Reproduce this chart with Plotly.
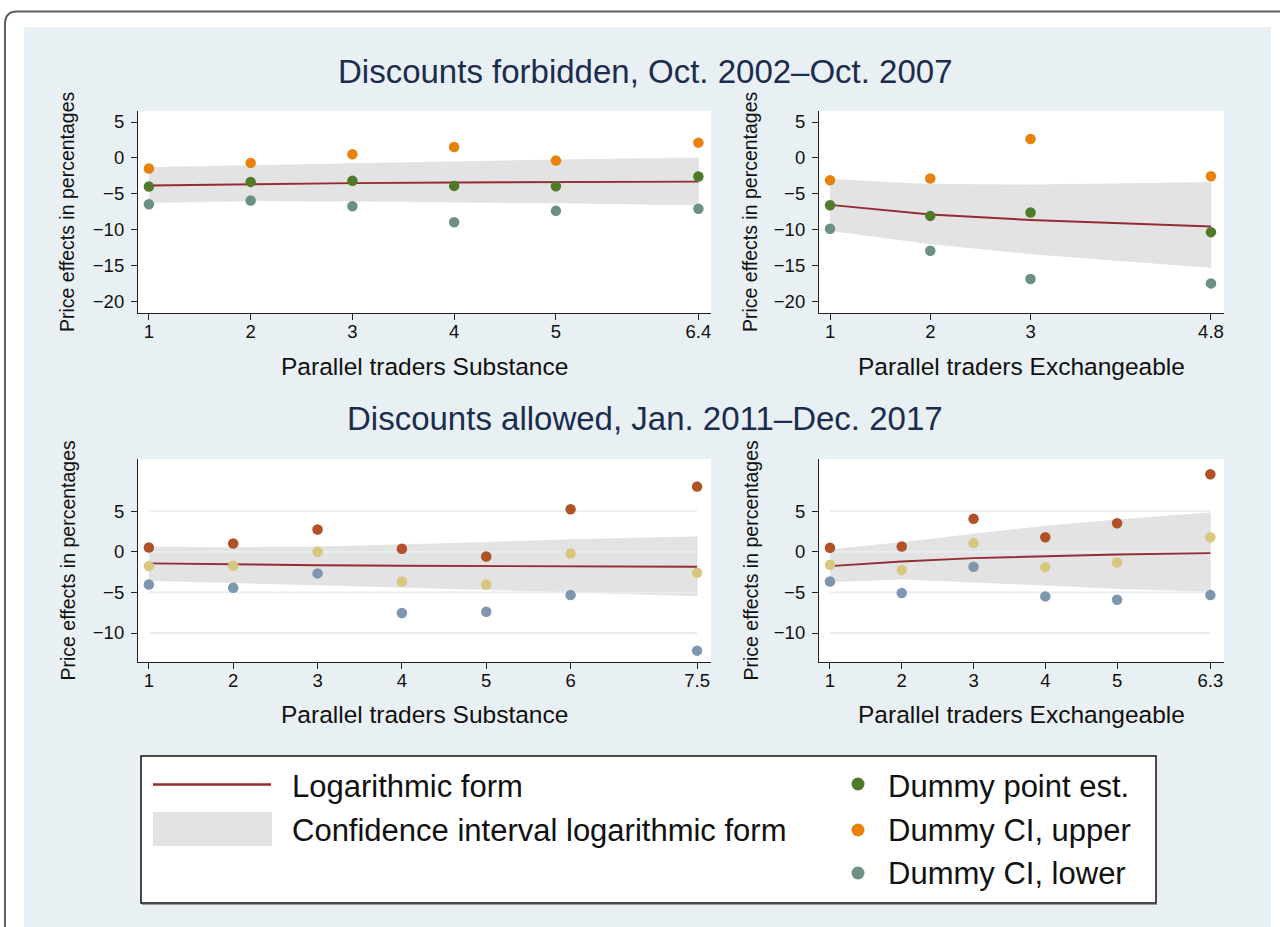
import plotly.graph_objects as go

W, H = 1280, 927
FONT = "Liberation Sans, Arial, Helvetica, sans-serif"

# ---------------- data ----------------
# Top row: Discounts forbidden, Oct. 2002-Oct. 2007
tl_x = [1, 2, 3, 4, 5, 6.4]
tl_point = [-3.98, -3.33, -3.19, -3.89, -3.94, -2.59]
tl_upper = [-1.48, -0.69, 0.51, 1.53, -0.37, 2.13]
tl_lower = [-6.44, -5.93, -6.71, -8.94, -7.36, -7.08]
tl_log = [-3.84, -3.63, -3.51, -3.42, -3.36, -3.29]
tl_ci_hi = [-1.34, -1.06, -0.74, -0.56, -0.28, 0.0]
tl_ci_lo = [-6.20, -5.97, -6.00, -6.10, -6.25, -6.53]

tr_x = [1, 2, 3, 4.8]
tr_point = [-6.57, -8.06, -7.59, -10.32]
tr_upper = [-3.10, -2.87, 2.64, -2.55]
tr_lower = [-9.86, -12.92, -16.85, -17.45]
tr_log = [-6.53, -7.86, -8.63, -9.54]
tr_ci_hi = [-2.96, -3.70, -3.75, -3.43]
tr_ci_lo = [-10.09, -11.94, -13.33, -15.23]

# Bottom row: Discounts allowed, Jan. 2011-Dec. 2017
bl_x = [1, 2, 3, 4, 5, 6, 7.5]
bl_point = [-1.76, -1.72, 0.0, -3.65, -4.02, -0.20, -2.58]
bl_upper = [0.53, 1.02, 2.75, 0.37, -0.57, 5.25, 8.03]
bl_lower = [-4.02, -4.43, -2.66, -7.54, -7.38, -5.33, -12.17]
bl_log = [-1.43, -1.57, -1.65, -1.71, -1.75, -1.79, -1.84]
bl_ci_hi = [0.57, 0.50, 0.60, 0.85, 1.15, 1.50, 1.84]
bl_ci_lo = [-3.52, -3.75, -4.05, -4.35, -4.65, -5.00, -5.41]

br_x = [1, 2, 3, 4, 5, 6.3]
br_point = [-1.60, -2.25, 1.07, -1.89, -1.31, 1.80]
br_upper = [0.49, 0.66, 4.06, 1.80, 3.52, 9.55]
br_lower = [-3.65, -5.08, -1.84, -5.49, -5.90, -5.33]
br_log = [-1.76, -1.19, -0.78, -0.53, -0.33, -0.16]
br_ci_hi = [0.25, 1.15, 2.17, 3.16, 3.93, 4.80]
br_ci_lo = [-3.69, -3.36, -3.77, -4.10, -4.51, -4.88]

top_yticks = [5, 0, -5, -10, -15, -20]
bot_yticks = [5, 0, -5, -10]

titles = ["Discounts forbidden, Oct. 2002\u2013Oct. 2007",
          "Discounts allowed, Jan. 2011\u2013Dec. 2017"]
x_titles = ["Parallel traders Substance", "Parallel traders Exchangeable"]
y_title = "Price effects in percentages"
legend_labels = ["Logarithmic form", "Confidence interval logarithmic form",
                 "Dummy point est.", "Dummy CI, upper", "Dummy CI, lower"]

# ---------------- styles ----------------
BG = "#e8f0f3"
LINE_C = "#952c33"
BAND_C = "#e3e3e3"
GRID_C = "#e6eef2"
top_cols = dict(upper="#e8820c", point="#4f7a28", lower="#6c8f86")
bot_cols = dict(upper="#b05226", point="#d8c87f", lower="#7e96ae")


def px(x):
    return x / W


def py(y):
    return 1 - y / H


panels = [
    dict(n="", x=tl_x, p=tl_point, u=tl_upper, l=tl_lower, lg=tl_log, hi=tl_ci_hi, lo=tl_ci_lo,
         xd=(138, 711), yd=(111, 313), xr=(0.893, 6.524), yr=(-21.57, 6.53),
         yt=top_yticks, cols=top_cols, grid=False),
    dict(n="2", x=tr_x, p=tr_point, u=tr_upper, l=tr_lower, lg=tr_log, hi=tr_ci_hi, lo=tr_ci_lo,
         xd=(819, 1224), yd=(111, 313), xr=(0.89, 4.93), yr=(-21.57, 6.53),
         yt=top_yticks, cols=top_cols, grid=False),
    dict(n="3", x=bl_x, p=bl_point, u=bl_upper, l=bl_lower, lg=bl_log, hi=bl_ci_hi, lo=bl_ci_lo,
         xd=(138, 711), yd=(459, 662), xr=(0.871, 7.665), yr=(-13.57, 11.43),
         yt=bot_yticks, cols=bot_cols, grid=True),
    dict(n="4", x=br_x, p=br_point, u=br_upper, l=br_lower, lg=br_log, hi=br_ci_hi, lo=br_ci_lo,
         xd=(819, 1224), yd=(459, 662), xr=(0.847, 6.49), yr=(-13.57, 11.43),
         yt=bot_yticks, cols=bot_cols, grid=True),
]

fig = go.Figure()
layout = {}
shapes = []

# page background and frame
shapes.append(dict(type="rect", xref="paper", yref="paper", x0=px(24), x1=px(1271),
                   y0=py(940), y1=py(27), fillcolor=BG, line=dict(width=0), layer="below"))
frame_path = (f"M {px(5)},{py(935)} L {px(5)},{py(24)} "
              f"Q {px(5)},{py(11.5)} {px(17)},{py(11.5)} L {px(1290)},{py(11.5)}")
shapes.append(dict(type="path", xref="paper", yref="paper", path=frame_path,
                   line=dict(color="#5e5e5e", width=2), layer="below"))

for pn in panels:
    n = pn["n"]
    xa, ya = "x" + n, "y" + n
    # white plot area
    shapes.append(dict(type="rect", xref="paper", yref="paper",
                       x0=px(pn["xd"][0]), x1=px(pn["xd"][1]),
                       y0=py(pn["yd"][1]), y1=py(pn["yd"][0]),
                       fillcolor="white", line=dict(width=0), layer="below"))
    # CI band
    fig.add_trace(go.Scatter(x=pn["x"] + pn["x"][::-1], y=pn["hi"] + pn["lo"][::-1],
                             fill="toself", fillcolor=BAND_C, mode="lines",
                             line=dict(width=0.6, color="#dedede"),
                             xaxis=xa, yaxis=ya, showlegend=False, hoverinfo="skip"))
    # grid lines spanning data range
    if pn["grid"]:
        gx, gy = [], []
        for t in pn["yt"]:
            gx += [pn["x"][0], pn["x"][-1], None]
            gy += [t, t, None]
        fig.add_trace(go.Scatter(x=gx, y=gy, mode="lines", line=dict(color=GRID_C, width=1.8),
                                 xaxis=xa, yaxis=ya, showlegend=False, hoverinfo="skip"))
    # log-form line
    fig.add_trace(go.Scatter(x=pn["x"], y=pn["lg"], mode="lines",
                             line=dict(color=LINE_C, width=1.9),
                             xaxis=xa, yaxis=ya, showlegend=False))
    # dummy points
    for key, ys in (("upper", pn["u"]), ("point", pn["p"]), ("lower", pn["l"])):
        fig.add_trace(go.Scatter(x=pn["x"], y=ys, mode="markers",
                                 marker=dict(size=10.5, color=pn["cols"][key], line=dict(width=0)),
                                 xaxis=xa, yaxis=ya, showlegend=False))

    axis_common = dict(showline=True, linecolor="#222222", linewidth=1.2, ticks="outside",
                       ticklen=6, tickwidth=1, tickcolor="#222222", showgrid=False,
                       zeroline=False, tickfont=dict(size=18.5, color="#111111", family=FONT),
                       fixedrange=True)
    layout["xaxis" + n] = dict(domain=[px(pn["xd"][0]), px(pn["xd"][1])], range=list(pn["xr"]),
                               anchor=ya, tickmode="array", tickvals=pn["x"],
                               ticktext=[str(v) for v in pn["x"]], ticklabelstandoff=-4,
                               **axis_common)
    layout["yaxis" + n] = dict(domain=[py(pn["yd"][1]), py(pn["yd"][0])], range=list(pn["yr"]),
                               anchor=xa, tickmode="array", tickvals=pn["yt"],
                               ticklabelstandoff=3, **axis_common)

annotations = []
for txt, yc in zip(titles, (72, 418)):
    annotations.append(dict(text=txt, x=px(645), y=py(yc), xref="paper", yref="paper",
                            showarrow=False, xanchor="center", yanchor="middle",
                            font=dict(size=33, color="#1c2c4e", family=FONT)))
for pn, xt in zip(panels, x_titles * 2):
    xc = (pn["xd"][0] + pn["xd"][1]) / 2
    ytxt = 366 if pn["yd"][0] < 300 else 714
    annotations.append(dict(text=xt, x=px(xc), y=py(ytxt), xref="paper", yref="paper",
                            showarrow=False, xanchor="center", yanchor="middle",
                            font=dict(size=24.5, color="#111111", family=FONT)))
    xy = 67 if pn["xd"][0] < 500 else 750
    yc = (pn["yd"][0] + pn["yd"][1]) / 2
    annotations.append(dict(text=y_title, x=px(xy), y=py(yc), xref="paper", yref="paper",
                            showarrow=False, xanchor="center", yanchor="middle", textangle=-90,
                            font=dict(size=19.5, color="#111111", family=FONT)))

# legend box
shapes.append(dict(type="rect", xref="paper", yref="paper", x0=px(141), x1=px(1156),
                   y0=py(903), y1=py(756), fillcolor="white",
                   line=dict(color="#111111", width=1.5), layer="above"))
shapes.append(dict(type="line", xref="paper", yref="paper", x0=px(142), x1=px(1157),
                   y0=py(904.5), y1=py(904.5), line=dict(color="#9a9a9a", width=1), layer="above"))
shapes.append(dict(type="line", xref="paper", yref="paper", x0=px(153), x1=px(271),
                   y0=py(784.5), y1=py(784.5), line=dict(color=LINE_C, width=2.4), layer="above"))
shapes.append(dict(type="rect", xref="paper", yref="paper", x0=px(153), x1=px(272),
                   y0=py(846), y1=py(812), fillcolor=BAND_C, line=dict(width=0), layer="above"))
for yc, key in zip((784, 830, 873), ("point", "upper", "lower")):
    r = 6.5
    shapes.append(dict(type="circle", xref="paper", yref="paper", x0=px(858 - r), x1=px(858 + r),
                       y0=py(yc + r), y1=py(yc - r), fillcolor=top_cols[key],
                       line=dict(width=0), layer="above"))
for txt, xl, yc in zip(legend_labels, (290, 290, 886, 886, 886), (786, 830, 786, 830, 873)):
    annotations.append(dict(text=txt, x=px(xl), y=py(yc), xref="paper", yref="paper",
                            showarrow=False, xanchor="left", yanchor="middle",
                            font=dict(size=31, color="#111111", family=FONT)))

fig.update_layout(width=W, height=H, autosize=False, margin=dict(l=0, r=0, t=0, b=0),
                  paper_bgcolor="white", plot_bgcolor="rgba(0,0,0,0)",
                  font=dict(family=FONT), showlegend=False,
                  shapes=shapes, annotations=annotations, **layout)

fig.write_html("out.html", config={"displayModeBar": False},
               post_script="document.body.style.margin='0px';document.body.style.overflow='hidden';")
